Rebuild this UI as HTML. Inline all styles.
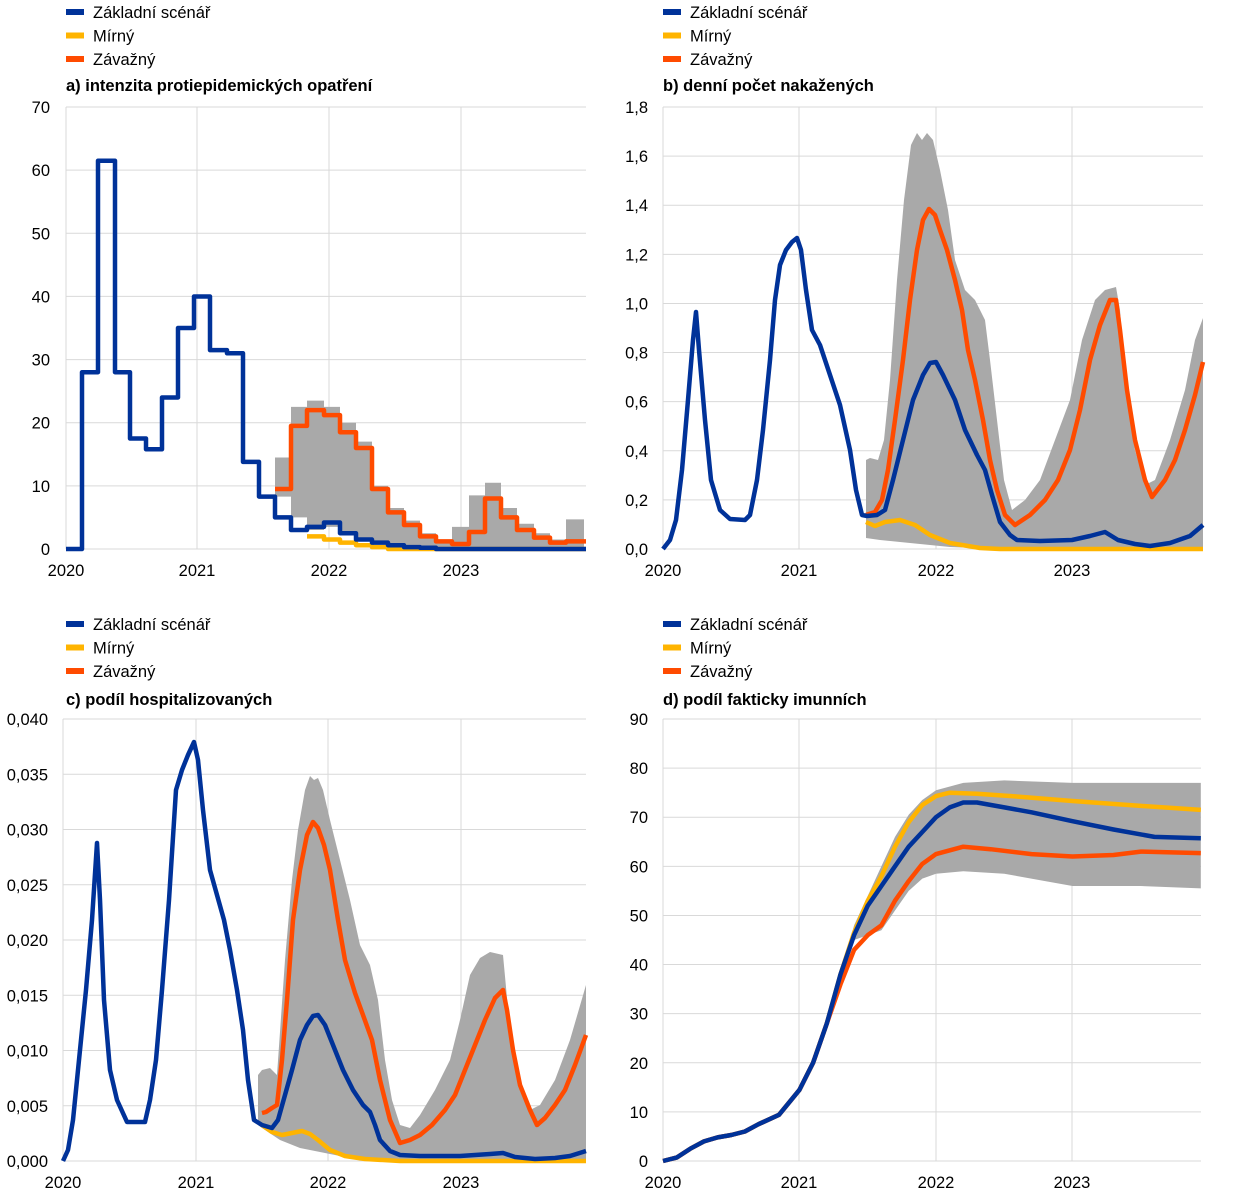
<!DOCTYPE html>
<html><head><meta charset="utf-8"><style>
body{margin:0;background:#fff;}
svg{display:block;font-family:"Liberation Sans",sans-serif;}
</style></head><body>
<svg id="s" width="1240" height="1204" xmlns="http://www.w3.org/2000/svg"></svg>
<script>
const S=document.getElementById('s');let h='';
const B='#003299',Y='#ffb400',O='#ff4b00',G='#a9a9a9';
function legend(x,y0,title,ty){
 [['Základní scénář',B],['Mírný',Y],['Závažný',O]].forEach((l,i)=>{
  const y=y0+i*23.5;
  h+=`<rect x="${x}" y="${y-3}" width="18" height="6" fill="${l[1]}"/>`;
  h+=`<text x="${x+27}" y="${y+6}" font-size="16.5">${l[0]}</text>`;});
 h+=`<text x="${x}" y="${ty+6}" font-size="16.5" font-weight="bold">${title}</text>`;
}
function panel(p){
 // p: x0,x1,yTop,yBot,yrs[],ticks[],labelX
 const n=p.ticks.length-1;
 p.ticks.forEach((t,i)=>{const y=p.yBot-(p.yBot-p.yTop)*i/n;
  h+=`<line x1="${p.x0}" x2="${p.x1}" y1="${y}" y2="${y}" stroke="#d9d9d9" stroke-width="1"/>`;
  h+=`<text x="${p.lx}" y="${y+6}" font-size="16.5" text-anchor="end">${t}</text>`;});
 p.yrs.forEach((x,i)=>{h+=`<line x1="${x}" x2="${x}" y1="${p.yTop}" y2="${p.yBot}" stroke="#d9d9d9" stroke-width="1"/>`;
  h+=`<text x="${x}" y="${p.yBot+27}" font-size="16.5" text-anchor="middle">${2020+i}</text>`;});
}
function pl(pts,c,w){h+=`<polyline points="${pts.map(p=>p.join(',')).join(' ')}" fill="none" stroke="${c}" stroke-width="${w||4.5}" stroke-linejoin="round"/>`;}
function band(up,lo){h+=`<polygon points="${up.concat(lo.slice().reverse()).map(p=>p.join(',')).join(' ')}" fill="${G}"/>`;}
// Panel a
legend(66,12,'a) intenzita protiepidemických opatření',85);
panel({x0:66,x1:586,yTop:107,yBot:549,yrs:[66,197,329,461],ticks:[0,10,20,30,40,50,60,70],lx:50});
const ya=v=>549-v*6.314;
function steps(arr,end){const r=[];for(let i=0;i<arr.length;i++){const x=arr[i][0],v=ya(arr[i][1]);if(i>0)r.push([x,ya(arr[i-1][1])]);r.push([x,v]);}r.push([end,ya(arr[arr.length-1][1])]);return r;}
// gray steps
const gu=[[275,14.5],[291,22.5],[307,23.5],[324,22.5],[340,20],[356,17],[372,10],[388,6.5],[404,4.5],[420,2.5],[436,1.5],[452,3.5],[469,8.5],[485,10.5],[501,6.5],[517,4],[534,2.5],[550,1.5],[566,4.7]];
const gl=[[275,8.3],[291,5],[307,3],[324,3.5],[340,2.5],[356,1.5],[372,1],[388,0.6],[404,0.3],[420,0.2],[436,0],[586,0]];
band(steps(gu,584),steps(gl,584));
pl(steps([[307,2],[324,1.5],[340,1],[356,0.6],[372,0.3],[388,0]],586),Y);
pl(steps([[275,9.5],[291,19.5],[307,22],[324,21.2],[340,18.5],[356,16],[372,9.5],[388,5.8],[404,3.8],[420,2],[436,1.2],[452,0.8],[469,2.7],[485,8],[501,5],[517,3],[534,1.8],[550,1],[566,1.2]],586),O);
pl(steps([[66,0],[82,28],[98,61.5],[115,28],[130,17.5],[146,15.8],[162,24],[178,35],[194,40],[210,31.5],[227,31],[243,13.8],[259,8.3],[275,5],[291,3],[307,3.5],[324,4.2],[340,2.5],[356,1.5],[372,1],[388,0.6],[404,0.3],[420,0.2],[436,0]],586),B);
// Panel b
legend(663,12,'b) denní počet nakažených',85);
panel({x0:663,x1:1203,yTop:107,yBot:549,yrs:[663,799,936,1072],ticks:['0,0','0,2','0,4','0,6','0,8','1,0','1,2','1,4','1,6','1,8'],lx:648});
band([[866,460],[870,458],[878,460],[884,440],[890,380],[897,280],[904,200],[911,145],[917,133],[922,140],[927,133],[933,140],[940,170],[948,210],[955,260],[965,290],[975,300],[985,320],[990,360],[997,420],[1004,480],[1012,510],[1025,500],[1040,480],[1055,440],[1070,400],[1082,340],[1095,300],[1105,290],[1116,287],[1120,310],[1127,400],[1135,450],[1145,485],[1155,480],[1170,440],[1185,390],[1195,340],[1203,318]],[[866,538],[880,540],[900,542],[950,547],[1000,549],[1203,549]]);
pl([[866,522],[875,526],[885,522],[900,520],[915,525],[930,535],[950,543],[980,548],[1000,549],[1203,549]],Y);
pl([[866,515],[875,512],[882,500],[888,470],[895,420],[903,360],[910,300],[917,250],[923,220],[929,209],[935,215],[940,230],[947,250],[955,280],[962,310],[968,350],[975,380],[983,420],[990,460],[997,490],[1005,515],[1015,525],[1030,515],[1045,500],[1058,480],[1070,450],[1080,410],[1090,360],[1100,325],[1110,300],[1116,300],[1120,330],[1127,390],[1135,440],[1145,480],[1152,497],[1165,480],[1175,460],[1185,430],[1195,395],[1203,362]],O);
pl([[663,549],[670,540],[676,520],[682,470],[688,400],[693,340],[696,312],[699,350],[705,420],[711,480],[720,510],[730,519],[745,520],[750,515],[757,480],[763,430],[770,360],[775,300],[780,265],[786,250],[792,242],[797,238],[801,250],[806,290],[812,330],[820,345],[830,375],[840,405],[850,450],[856,490],[862,515],[867,516],[877,515],[885,510],[893,480],[903,440],[913,400],[923,375],[930,363],[936,362],[943,375],[955,400],[965,430],[977,455],[985,470],[992,495],[1000,522],[1010,535],[1017,540],[1040,541],[1072,540],[1090,536],[1105,532],[1118,540],[1135,544],[1150,546],[1170,543],[1190,536],[1203,525]],B);
// Panel c
legend(66,624,'c) podíl hospitalizovaných',699);
panel({x0:63,x1:586,yTop:719,yBot:1161,yrs:[63,196,328,461],ticks:['0,000','0,005','0,010','0,015','0,020','0,025','0,030','0,035','0,040'],lx:48});
band([[258,1075],[262,1070],[270,1068],[277,1075],[285,960],[292,880],[298,830],[305,790],[310,776],[314,780],[318,778],[323,790],[330,820],[340,860],[350,900],[360,945],[370,965],[378,1000],[385,1060],[392,1100],[400,1125],[410,1128],[420,1115],[435,1090],[450,1060],[460,1020],[470,975],[480,958],[490,952],[503,955],[510,1030],[518,1085],[530,1110],[540,1105],[555,1080],[570,1040],[586,985]],[[258,1125],[262,1128],[280,1140],[300,1148],[350,1158],[400,1161],[586,1161]]);
pl([[262,1125],[272,1132],[282,1135],[292,1133],[302,1131],[310,1134],[318,1140],[330,1150],[345,1156],[365,1159],[400,1161],[586,1161]],Y);
pl([[262,1113],[266,1112],[272,1108],[277,1105],[282,1060],[287,1000],[293,920],[300,870],[307,835],[313,822],[318,828],[324,845],[330,870],[338,920],[345,960],[355,993],[363,1015],[372,1040],[380,1080],[390,1120],[400,1143],[410,1140],[420,1135],[432,1125],[445,1110],[455,1095],[465,1070],[475,1045],[485,1020],[495,998],[503,990],[507,1010],[513,1050],[520,1085],[530,1110],[537,1125],[545,1118],[555,1105],[565,1090],[575,1065],[586,1035]],O);
pl([[63,1161],[68,1150],[73,1120],[79,1060],[86,990],[92,920],[97,843],[100,900],[104,1000],[110,1070],[117,1100],[127,1122],[137,1122],[145,1122],[150,1100],[156,1060],[162,990],[169,900],[176,790],[182,770],[188,755],[194,742],[198,760],[203,810],[210,870],[217,895],[224,920],[230,950],[237,990],[243,1030],[248,1080],[254,1120],[262,1125],[272,1128],[278,1120],[285,1095],[292,1070],[300,1040],[307,1025],[313,1016],[318,1015],[325,1025],[333,1045],[343,1070],[353,1090],[363,1105],[370,1112],[375,1125],[380,1140],[390,1151],[400,1155],[420,1156],[460,1156],[490,1154],[503,1153],[515,1157],[535,1159],[555,1158],[570,1156],[586,1151]],B);
// Panel d
legend(663,624,'d) podíl fakticky imunních',699);
panel({x0:663,x1:1201,yTop:719,yBot:1161,yrs:[663,799,936,1072],ticks:[0,10,20,30,40,50,60,70,80,90],lx:648});
const dx=t=>663+136.5*t,dy=v=>1161-v*4.911;
const m=a=>a.map(p=>[dx(p[0]).toFixed(1),dy(p[1]).toFixed(1)]);
const base=[[0,0],[0.1,0.7],[0.2,2.5],[0.3,4],[0.4,4.8],[0.5,5.3],[0.6,6],[0.7,7.5],[0.85,9.4],[1.0,14.5],[1.1,20],[1.2,28],[1.3,38]];
band(m([[1.3,38],[1.4,48],[1.5,54],[1.6,60],[1.7,66],[1.8,70.5],[1.9,73.5],[2.0,75.5],[2.2,77],[2.5,77.5],[3.0,77],[3.94,77]]),m([[1.3,37],[1.4,45],[1.5,46],[1.6,47],[1.7,51],[1.8,55],[1.9,57.5],[2.0,58.5],[2.2,59],[2.5,58.5],[2.8,57],[3.0,56],[3.5,56],[3.94,55.5]]));
pl(m(base.concat([[1.4,46.5],[1.5,53],[1.6,58],[1.7,64],[1.8,69],[1.9,72.5],[2.0,74.3],[2.1,75],[2.3,74.8],[2.6,74.2],[3.0,73.3],[3.5,72.3],[3.94,71.5]])),Y);
pl(m(base.slice(0,12).concat([[1.3,36],[1.4,43],[1.5,46],[1.6,48],[1.7,53],[1.8,57],[1.9,60.5],[2.0,62.5],[2.2,64],[2.4,63.5],[2.7,62.5],[3.0,62],[3.3,62.3],[3.5,63],[3.94,62.7]])),O);
pl(m(base.concat([[1.4,46],[1.5,52],[1.6,56],[1.7,60],[1.8,64],[1.9,67],[2.0,70],[2.1,72],[2.2,73],[2.3,73],[2.5,72],[2.7,71],[3.0,69.2],[3.3,67.5],[3.6,66],[3.94,65.7]])),B);
S.innerHTML=h;
</script>
</body></html>
